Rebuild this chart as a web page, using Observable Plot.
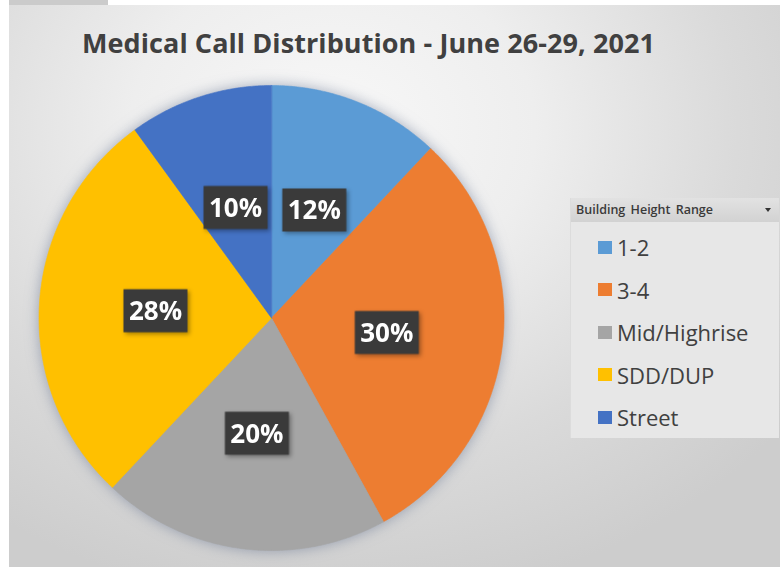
<!DOCTYPE html>
<html>
<head>
<meta charset="utf-8">
<script src="https://cdn.jsdelivr.net/npm/d3@7"></script>
<script src="https://cdn.jsdelivr.net/npm/@observablehq/plot@0.6"></script>
<style>
  html, body { margin: 0; padding: 0; background: #ffffff; }
  body { width: 780px; height: 567px; position: relative; overflow: hidden; font-family: "Open Sans", sans-serif; }
  #bg { position: absolute; left: 9px; top: 5px; width: 771px; height: 562px;
        background: radial-gradient(ellipse 75% 85% at 42% 22%, #f8f8f8 0%, #eeeeee 35%, #dadada 70%, #cdcdcd 100%); }
  #tab { position: absolute; left: 9px; top: 0; width: 99px; height: 5px; background: #cbcbcb; }
  #title { position: absolute; left: 82px; top: 24px; font-size: 27px; font-weight: 700; color: #404040; white-space: nowrap; }
  #chart { position: absolute; left: 0; top: 0; }
  #legend { position: absolute; left: 570px; top: 198px; width: 208px; height: 240px; background: #e7e7e7; border-left: 1px solid #dcdcdc; }
  #legend .head { height: 24px; background: linear-gradient(#e2e2e2, #d2d2d2); position: relative; }
  #legend .head span { position: absolute; left: 5px; top: 3px; font-size: 12.5px; font-weight: 600; color: #3a3a3a; word-spacing: 2px; }
  #legend .head i { position: absolute; right: 8px; top: 10px; width: 0; height: 0; border-left: 3px solid transparent; border-right: 3px solid transparent; border-top: 4px solid #333; }
  #legend .item { position: absolute; left: 27px; height: 30px; display: flex; align-items: center; font-size: 22px; color: #404040; }
  #legend .sw { width: 14px; height: 13px; margin-right: 5px; }
</style>
</head>
<body>
<div id="bg"></div>
<div id="tab"></div>
<div id="title">Medical Call Distribution - June 26-29, 2021</div>
<div id="chart"></div>
<div id="legend"><div class="head"><span>Building Height Range</span><i></i></div></div>
<script>
const categories = ["1-2", "3-4", "Mid/Highrise", "SDD/DUP", "Street"];
const values = [12, 30, 20, 28, 10];
const colors = ["#5B9BD5", "#ED7D31", "#A5A5A5", "#FFC000", "#4472C4"];
const legendTitle = "Building Height Range";
const titleText = "Medical Call Distribution - June 26-29, 2021";

const total = d3.sum(values);
const rows = categories.map((c, i) => ({category: c, value: values[i]}));
const arcs = d3.pie().sort(null).value(d => d.value)(rows);

// polygon outline of every slice (center + points along its arc)
const outline = [];
for (const a of arcs) {
  const n = Math.max(2, Math.ceil((a.endAngle - a.startAngle) / (Math.PI / 360)));
  outline.push({category: a.data.category, x: 0, y: 0});
  for (let k = 0; k <= n; k++) {
    const t = a.startAngle + (a.endAngle - a.startAngle) * k / n;
    outline.push({category: a.data.category, x: Math.sin(t), y: Math.cos(t)});
  }
}
const labels = arcs.map(a => {
  const m = (a.startAngle + a.endAngle) / 2;
  return {category: a.data.category, x: 0.5 * Math.sin(m), y: 0.5 * Math.cos(m),
          text: Math.round(a.data.value / total * 100) + "%"};
});

const boxSymbol = { draw(ctx) { ctx.rect(-32, -21.5, 64, 43); } };

const plot = Plot.plot({
  width: 780,
  height: 567,
  marginLeft: 38.5,
  marginRight: 276.5,
  marginTop: 85,
  marginBottom: 17,
  style: {background: "transparent", overflow: "visible"},
  x: {domain: [-1, 1], axis: null},
  y: {domain: [-1, 1], axis: null},
  color: {domain: categories, range: colors},
  marks: [
    Plot.line(outline, {x: "x", y: "y", z: "category", fill: "category", stroke: "category", strokeWidth: 0.6, curve: "linear-closed"}),
    Plot.dot(labels, {x: "x", y: "y", symbol: boxSymbol, fill: "#3a3a3a", stroke: "none"}),
    Plot.text(labels, {x: "x", y: "y", text: "text", fill: "white", fontSize: 26, fontWeight: "bold", fontFamily: "Open Sans", dy: 1})
  ]
});
document.getElementById("chart").appendChild(plot);
const lineG = plot.querySelector('g[aria-label="line"]');
if (lineG) lineG.style.filter = "drop-shadow(0 0 7px rgba(95,110,140,0.55))";
const dotG = plot.querySelector('g[aria-label="dot"]');
if (dotG) dotG.style.filter = "drop-shadow(2px 2px 2px rgba(0,0,0,0.35))";

// title, fitted to the reference's width
const title = document.getElementById("title");
title.textContent = titleText;
const targetW = 573;
const w0 = title.getBoundingClientRect().width;
title.style.letterSpacing = ((targetW - w0) / (titleText.length - 1)) + "px";

const legend = document.getElementById("legend");
legend.querySelector(".head span").textContent = legendTitle;
categories.forEach((c, i) => {
  const it = document.createElement("div");
  it.className = "item";
  it.style.top = (34 + i * 42.5) + "px";
  it.innerHTML = `<div class="sw" style="background:${colors[i]}"></div><span>${c}</span>`;
  legend.appendChild(it);
});
</script>
</body>
</html>
